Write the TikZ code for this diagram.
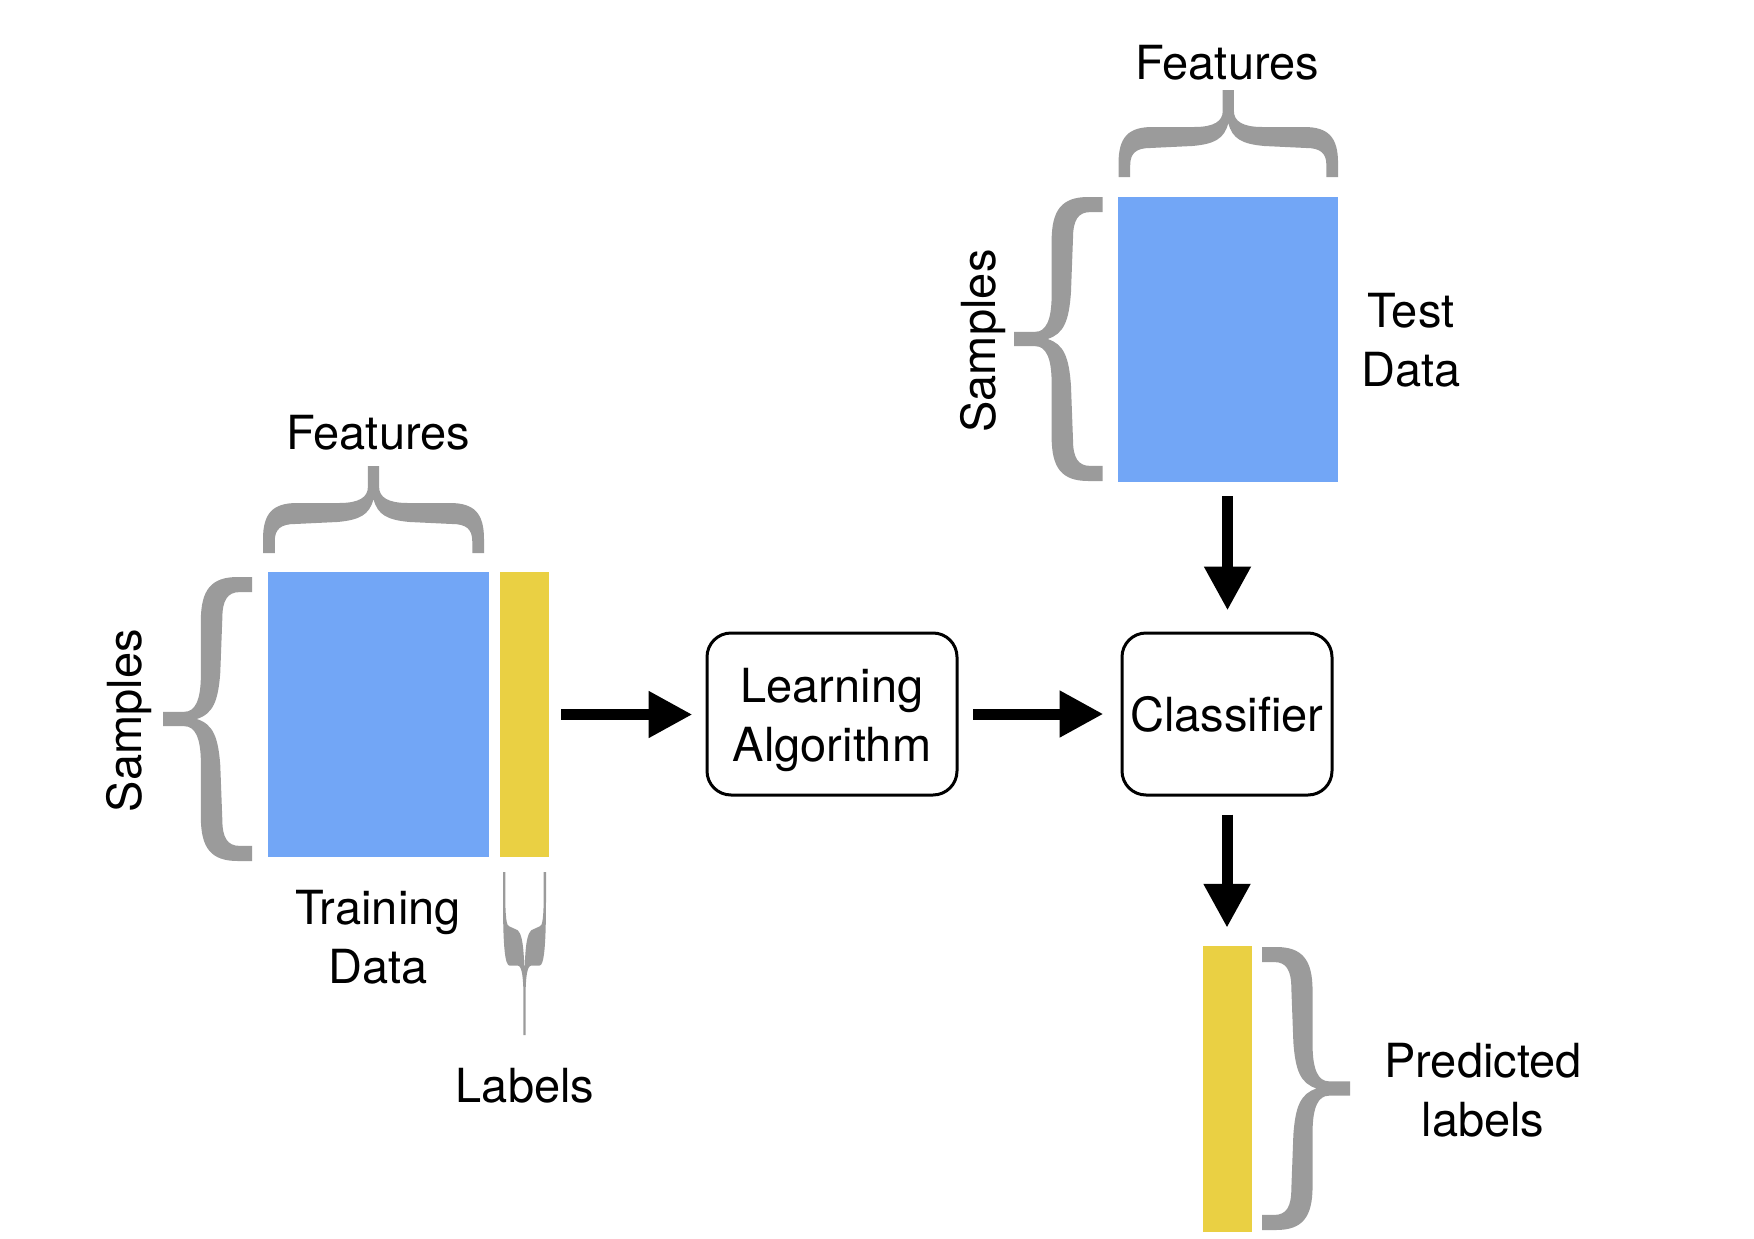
\documentclass[tikz,border=0pt]{standalone}
\usepackage{fontspec}
\setmainfont{TeX Gyre Heros}
\usetikzlibrary{arrows.meta}
\definecolor{dataBlue}{HTML}{72A6F6}
\definecolor{labYellow}{HTML}{EAD043}
\definecolor{braceGray}{HTML}{9B9B9B}
\tikzset{
  bluebox/.style={fill=dataBlue, draw=none, inner sep=0pt},
  yelbox/.style={fill=labYellow, draw=none, inner sep=0pt},
  procbox/.style={draw=black, line width=3pt, rounded corners=24pt, inner sep=0pt, fill=white},
  lbl/.style={inner sep=0pt, align=center},
  flow/.style={draw=black, line width=11pt, -{Triangle[length=44pt,width=44pt]}},
  pics/curly/.style 2 args={code={
    \fill[braceGray, xscale=#1/220, yscale=-#2/87]
      (-110,0) -- (-110,14)
      .. controls (-110,40) and (-100,50) .. (-76,50)
      -- (-34,50)
      .. controls (-14,50) and (-5.6,56) .. (-5.6,66)
      -- (-5.6,87) -- (5.6,87) -- (5.6,66)
      .. controls (5.6,56) and (14,50) .. (34,50)
      -- (76,50)
      .. controls (100,50) and (110,40) .. (110,14)
      -- (110,0) -- (98.3,0) -- (98.3,12)
      .. controls (98.3,24) and (92,29) .. (78,29)
      -- (36,31)
      .. controls (14,33) and (4,38) .. (0,54)
      .. controls (-4,38) and (-14,33) .. (-36,31)
      -- (-78,29)
      .. controls (-92,29) and (-98.3,24) .. (-98.3,12)
      -- (-98.3,0) -- cycle;
  }}
}
\begin{document}
\begin{tikzpicture}[x=1pt, y=-1pt, font=\fontsize{47}{59}\selectfont]
\useasboundingbox (0,0) rectangle (1754,1239);

% data blocks
\node[bluebox, minimum width=221pt, minimum height=285pt] (trainX) at (378.5,714.5) {};
\node[yelbox, minimum width=49pt, minimum height=285pt] (trainY) at (524.5,714.5) {};
\node[bluebox, minimum width=220pt, minimum height=285pt] (testX) at (1227.5,339.5) {};
\node[yelbox, minimum width=49pt, minimum height=286pt] (predY) at (1227.5,1089) {};

% process boxes
\node[procbox, minimum width=250pt, minimum height=162pt, align=center] (learn) at (832,714) {\rule{0pt}{47pt}Learning\\Algorithm};
\node[procbox, minimum width=210pt, minimum height=162pt] (clf) at (1227,714) {Classifier};

% braces
\pic at (373.5,553) {curly={221}{87}};
\pic[rotate=90] at (252,719) {curly={284}{89}};
\pic at (1228.3,177) {curly={219.5}{87}};
\pic[rotate=90] at (1102.5,339) {curly={284}{88.5}};
\pic[rotate=-90] at (1262,1088.5) {curly={283}{88}};
\pic[rotate=180] at (524.5,872) {curly={43}{163}};

% labels
\node[lbl, anchor=base] (featA) at (378,449) {Features};
\node[lbl, anchor=base] (featB) at (1227,80) {Features};
\node[lbl, anchor=base, rotate=90] (sampA) at (141.5,720.5) {Samples};
\node[lbl, anchor=base, rotate=90] (sampB) at (995,341) {Samples};
\node[lbl] (testlbl) at (1411,340.5) {Test\\Data};
\node[lbl] (trainlbl) at (378,937) {Training\\Data};
\node[lbl, anchor=base] (labl) at (525,1102) {Labels};
\node[lbl] (predlbl) at (1483,1090.4) {Predicted\\labels};

% flow arrows
\draw[flow, shorten <=12pt, shorten >=13pt] (trainY.east) -- (trainY.east -| learn.west);
\draw[flow, shorten <=14.5pt, shorten >=17pt] (learn.east) -- (clf.west);
\draw[flow, shorten <=14pt, shorten >=21pt] (testX.south) -- (testX.south |- clf.north);
\draw[flow, shorten <=18pt, shorten >=18pt] (clf.south) -- (clf.south |- predY.north);
\end{tikzpicture}
\end{document}
